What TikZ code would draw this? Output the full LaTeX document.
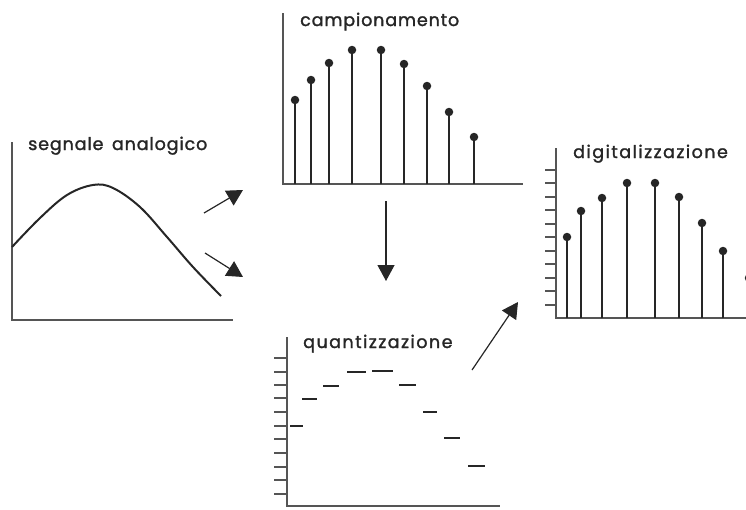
\documentclass[tikz,border=0pt]{standalone}
\usepackage{fontspec}
\newfontfamily\labfont[LetterSpace=5,FakeBold=1.6]{Poppins}
\newfontfamily\labfontwide[LetterSpace=8.5,FakeBold=1.6]{Poppins}
\usetikzlibrary{arrows.meta}
\definecolor{ink}{HTML}{262626}
\definecolor{axis}{HTML}{555555}
\tikzset{
  axisline/.style={draw=axis, line width=1.3pt},
  tickline/.style={draw=axis, line width=1.1pt},
  stem/.style={draw=ink, line width=1.5pt},
  sdot/.style={circle, fill=ink, inner sep=0pt, minimum size=8.5pt},
  level/.style={draw=ink, line width=1.2pt},
  title/.style={anchor=base west, inner sep=0pt, text=ink, font=\labfont\fontsize{17.5}{19}\selectfont},
  titlewide/.style={title, font=\labfontwide\fontsize{17.5}{19}\selectfont},
  flow/.style={draw=ink, line width=1.2pt, -{Triangle[length=16pt,width=17pt]}},
  curve/.style={draw=ink, line width=2pt}
}
\begin{document}
\begin{tikzpicture}[x=1pt,y=-1pt]
\useasboundingbox (0,0) rectangle (746,509);
\begin{scope}
\clip (0,0) rectangle (746,509);
% ---------- analog ----------
\coordinate (aTop) at (12,142);
\coordinate (aO) at (12,320);
\coordinate (aR) at (233,320);
\draw[axisline] (aTop) -- (aO) -- (aR);
\node[title] (tA) at (28,150) {segnale\hspace{3pt} analogico};
\draw[curve] plot[smooth, tension=0.6] coordinates {(12,247) (40,218) (67,195) (93,185) (113,188) (140,207) (167,237) (193,267) (221,296)};
% ---------- sampling ----------
\coordinate (sTop) at (283,13);
\coordinate (sO) at (283,184);
\coordinate (sR) at (523,184);
\draw[axisline] (sTop) -- (sO) -- (sR);
\node[title] (tS) at (300,26) {campionamento};
\foreach \i/\x/\y in {1/295/100,2/311/80,3/329/63,4/352/50,5/381/50,6/404/64,7/427/86,8/449/112,9/474/137}{
  \coordinate (sb\i) at (\x,184);
  \node[sdot] (sd\i) at (\x,\y) {};
  \draw[stem] (sb\i) -- (sd\i.center);
}
% ---------- quantization ----------
\coordinate (qTop) at (287,337);
\coordinate (qO) at (287,506);
\coordinate (qR) at (500,506);
\draw[axisline] (qTop) -- (qO) -- (qR);
\node[titlewide] (tQ) at (303,348) {quantizzazione};
\foreach \y in {358,372,385,398,412,426,439,453,467,480,494}{
  \draw[tickline] (274,\y) -- (287,\y);
}
\foreach \a/\b/\y in {290/303/426,302/317/399,323/339/386,347/366/372,372/393/371,399/416/385,423/437/412,444/460/438,468/485/466}{
  \draw[level] (\a,\y) -- (\b,\y);
}
% ---------- digitization ----------
\coordinate (dTop) at (556,148);
\coordinate (dO) at (556,318);
\coordinate (dR) at (746,318);
\draw[axisline] (dTop) -- (dO) -- (dR);
\node[titlewide] (tD) at (573,158) {digitalizzazione};
\foreach \y in {170,183,197,210,224,237,251,264,278,291,305}{
  \draw[tickline] (545,\y) -- (556,\y);
}
\foreach \i/\x/\y in {1/567/237,2/581/211,3/602/198,4/627/183,5/655/183,6/679/197,7/702/223,8/723/251,9/749/278}{
  \coordinate (db\i) at (\x,318);
  \node[sdot] (dd\i) at (\x,\y) {};
  \draw[stem] (db\i) -- (dd\i.center);
}
% ---------- arrows ----------
\coordinate (a1s) at (204,213);
\coordinate (a1e) at (243,190);
\coordinate (a2s) at (205,253);
\coordinate (a2e) at (243,277);
\coordinate (a3s) at (386,201);
\coordinate (a3e) at (386,281);
\coordinate (a4s) at (472,370);
\coordinate (a4e) at (518,302);
\draw[flow] (a1s) -- (a1e);
\draw[flow] (a2s) -- (a2e);
\draw[flow] (a3s) -- (a3e);
\draw[flow] (a4s) -- (a4e);
\end{scope}
\end{tikzpicture}
\end{document}
